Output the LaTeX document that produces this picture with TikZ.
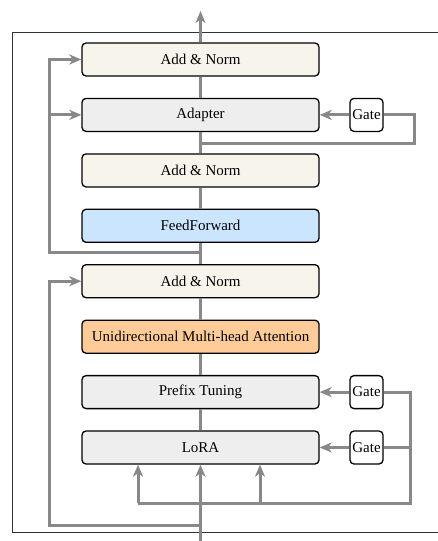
\documentclass[tikz,border=0pt]{standalone}
\usepackage{fontspec}
\setmainfont{Liberation Serif}
\usetikzlibrary{arrows.meta}
\definecolor{normfill}{HTML}{F7F4EC}
\definecolor{grayfill}{HTML}{EEEEEE}
\definecolor{fffill}{HTML}{CCE5FF}
\definecolor{attfill}{HTML}{FFCC99}
\definecolor{linegray}{HTML}{888888}
\begin{document}
\begin{tikzpicture}[x=1pt,y=-1pt,
  blk/.style={draw=black, line width=1.3pt, rounded corners=4pt, minimum width=237pt, minimum height=33pt, inner sep=0pt, font=\fontsize{15}{18}\selectfont},
  gatebox/.style={draw=black, line width=1.3pt, rounded corners=4pt, minimum width=33pt, minimum height=33pt, inner sep=0pt, fill=white, font=\fontsize{15}{18}\selectfont},
  conn/.style={draw=linegray, line width=3pt},
  arr/.style={conn, -{Stealth[length=12pt,width=10pt,inset=3.5pt]}}]
\clip (0,0) rectangle (438,541);
\draw[black!80, line width=0.8pt] (12,32) rectangle (460,532);
% blocks
\node[blk, fill=normfill] (n1) at (200.5,59.5) {Add \& Norm};
\node[blk, fill=grayfill] (ad) at (200.5,114.9) {Adapter};
\node[blk, fill=normfill] (n3) at (200.5,170.4) {Add \& Norm};
\node[blk, fill=fffill] (ff) at (200.5,225.8) {FeedForward};
\node[blk, fill=normfill] (n5) at (200.5,281.2) {Add \& Norm};
\node[blk, fill=attfill] (at) at (200.5,336.7) {Unidirectional Multi-head Attention};
\node[blk, fill=grayfill] (pt) at (200.5,392.1) {Prefix Tuning};
\node[blk, fill=grayfill] (lo) at (200.5,447.5) {LoRA};
\node[gatebox] (g1) at (366.5,114.9) {Gate};
\node[gatebox] (g2) at (366.5,392.1) {Gate};
\node[gatebox] (g3) at (366.5,447.5) {Gate};
% junction coordinates
\coordinate (top) at (200.5,11);
\coordinate (bot) at (200.5,545);
\coordinate (j1) at (200.5,252);
\coordinate (j2) at (200.5,525);
\coordinate (ja) at (200.5,143);
\coordinate (l1) at (49,252);
\coordinate (l1a) at (49,114.9);
\coordinate (l1b) at (49,59.5);
\coordinate (l2) at (49,525);
\coordinate (l2a) at (49,281.2);
\coordinate (ra1) at (414,114.9);
\coordinate (ra2) at (414,143);
\coordinate (rb1) at (410,392.1);
\coordinate (rb2) at (410,447.5);
\coordinate (rb3) at (410,503);
\coordinate (la) at (138,503);
\coordinate (lb) at (260,503);
% spine
\draw[arr] (bot) -- (lo.south);
\draw[conn] (lo.north) -- (pt.south);
\draw[conn] (pt.north) -- (at.south);
\draw[conn] (at.north) -- (n5.south);
\draw[conn] (n5.north) -- (ff.south);
\draw[conn] (ff.north) -- (n3.south);
\draw[conn] (n3.north) -- (ad.south);
\draw[conn] (ad.north) -- (n1.south);
\draw[arr] (n1.north) -- (top);
% left residual loops
\draw[arr] (j1) -- (l1) -- (l1b) -- (n1.west);
\draw[arr] (l1a) -- (ad.west);
\draw[arr] (j2) -- (l2) -- (l2a) -- (n5.west);
% adapter gate
\draw[arr] (g1.west) -- (ad.east);
\draw[conn] (g1.east) -- (ra1) -- (ra2) -- (ja);
% lower gates
\draw[arr] (g2.west) -- (pt.east);
\draw[arr] (g3.west) -- (lo.east);
\draw[conn] (g2.east) -- (rb1) -- (rb3) -- (la);
\draw[conn] (g3.east) -- (rb2);
\draw[arr] (la) -- (la |- lo.south);
\draw[arr] (lb) -- (lb |- lo.south);
\end{tikzpicture}
\end{document}
